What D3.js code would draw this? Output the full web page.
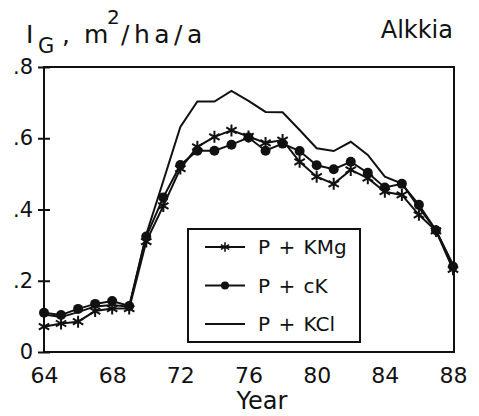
<!DOCTYPE html>
<html>
<head>
<meta charset="utf-8">
<script src="https://cdnjs.cloudflare.com/ajax/libs/d3/7.8.5/d3.min.js"></script>
<style>
  body { margin: 0; background: #fff; }
  svg { display: block; font-family: 'DejaVu Sans', sans-serif; }
</style>
</head>
<body>
<script>
var years = d3.range(64, 89)
var kmg = [.071, .080, .085, .115, .122, .122, .310, .410, .515, .576, .604, .622, .605,
           .587, .595, .534, .492, .472, .511, .488, .450, .441, .385, .340, .232]
var ck  = [.110, .104, .121, .135, .143, .129, .324, .434, .525, .565, .565, .582, .602,
           .565, .585, .564, .524, .513, .534, .503, .462, .472, .413, .342, .240]
var kcl = [.105, .098, .112, .128, .132, .127, .330, .480, .632, .703, .703, .733, .705,
           .674, .673, .623, .572, .564, .590, .553, .492, .473, .405, .342, .245]
var xTicks = [64, 68, 72, 76, 80, 84, 88]
var yTicks = [0, .2, .4, .6, .8]
var legendLabels = ['P + KMg', 'P + cK', 'P + KCl']

var width = 479
var height = 416

var x = d3.scaleLinear().domain([64, 88]).range([44, 453])
var y = d3.scaleLinear().domain([0, .8]).range([352, 67])

var svg = d3.select('body').append('svg')
    .attr('width', width)
    .attr('height', height)

// frame
svg.append('rect')
    .attr('x', x(64)).attr('y', y(.8))
    .attr('width', 454 - x(64)).attr('height', y(0) - y(.8))
    .style('fill', 'none')
    .style('stroke', '#111')
    .style('stroke-width', 2)

var yAxis = svg.append('g')
    .attr('transform', 'translate(' + x(64) + ',0)')
    .call(d3.axisLeft(y)
        .tickValues(yTicks)
        .tickSize(6)
        .tickPadding(5)
        .tickFormat(function(d) { return d === 0 ? '0' : d3.format('.1f')(d).replace(/^0/, '') }))
yAxis.select('.domain').remove()
yAxis.selectAll('line').attr('x1', 6).style('stroke', '#111').style('stroke-width', 2)
yAxis.selectAll('text')
    .style('font-size', '21px')
    .style('font-family', 'DejaVu Sans')
    .style('fill', '#111')

var xAxis = svg.append('g')
    .attr('transform', 'translate(0,' + y(0) + ')')
    .call(d3.axisBottom(x).tickValues(xTicks).tickSize(0).tickPadding(15))
xAxis.select('.domain').remove()
xAxis.selectAll('text')
    .style('font-size', '22px')
    .style('font-family', 'DejaVu Sans')
    .style('fill', '#111')

svg.append('text')
    .attr('x', 262).attr('y', 409)
    .attr('text-anchor', 'middle')
    .style('font-size', '24px')
    .style('fill', '#111')
    .text('Year')

// title, pieces placed one by one
var title = svg.append('text')
    .attr('y', 43)
    .style('font-size', '25px')
    .style('fill', '#111')
title.append('tspan').attr('x', 26).attr('y', 43).text('I')
title.append('tspan').attr('x', 38).attr('y', 53).style('font-size', '21px').text('G')
title.append('tspan').attr('x', 62).attr('y', 43).text(',')
title.append('tspan').attr('x', 84).attr('y', 43).text('m')
title.append('tspan').attr('x', 107).attr('y', 24).style('font-size', '20px').text('2')
title.append('tspan').attr('x', 121).attr('y', 43).style('letter-spacing', '4.5px').text('/ha/a')

svg.append('text')
    .attr('x', 453).attr('y', 38)
    .attr('text-anchor', 'end')
    .style('font-size', '24px')
    .style('fill', '#111')
    .text('Alkkia')

var line = d3.line()
    .x(function(d, i) { return x(years[i]) })
    .y(function(d) { return y(d) })

var starPath = 'M0,-6L0,6M-5.2,-3L5.2,3M-5.2,3L5.2,-3'

function drawSeries(vals, marker) {
    svg.append('path')
        .datum(vals)
        .attr('d', line)
        .style('fill', 'none')
        .style('stroke', '#111')
        .style('stroke-width', 2)
    if (marker === 'star') {
        svg.append('g').selectAll('path')
            .data(vals)
            .enter().append('path')
            .attr('transform', function(d, i) { return 'translate(' + x(years[i]) + ',' + y(d) + ')' })
            .attr('d', starPath)
            .style('stroke', '#111')
            .style('stroke-width', 2)
    } else if (marker === 'dot') {
        svg.append('g').selectAll('circle')
            .data(vals)
            .enter().append('circle')
            .attr('cx', function(d, i) { return x(years[i]) })
            .attr('cy', function(d) { return y(d) })
            .attr('r', 5)
            .style('fill', '#111')
    }
}

drawSeries(kcl, 'none')
drawSeries(ck, 'dot')
drawSeries(kmg, 'star')

// legend
var legend = svg.append('g')
legend.append('rect')
    .attr('x', 188).attr('y', 229)
    .attr('width', 172).attr('height', 113)
    .style('fill', '#fff')
    .style('stroke', '#111')
    .style('stroke-width', 2)

var markers = ['star', 'dot', 'none']
legendLabels.forEach(function(lbl, i) {
    var ly = 247 + i * 38.5
    legend.append('line')
        .attr('x1', 205).attr('x2', 245)
        .attr('y1', ly).attr('y2', ly)
        .style('stroke', '#111')
        .style('stroke-width', 2)
    if (markers[i] === 'star') {
        legend.append('path')
            .attr('transform', 'translate(225,' + ly + ') scale(0.8)')
            .attr('d', starPath)
            .style('stroke', '#111')
            .style('stroke-width', 2)
    } else if (markers[i] === 'dot') {
        legend.append('circle')
            .attr('cx', 225).attr('cy', ly).attr('r', 4)
            .style('fill', '#111')
    }
    legend.append('text')
        .attr('x', 258).attr('y', ly + 7)
        .style('font-size', '20px')
        .style('fill', '#111')
        .style('word-spacing', '2px')
        .text(lbl)
})
</script>
</body>
</html>
